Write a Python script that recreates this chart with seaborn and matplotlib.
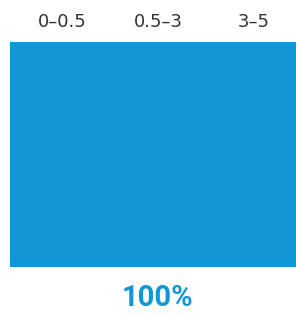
import matplotlib
matplotlib.use("Agg")
from matplotlib import pyplot as plt
from matplotlib.colors import ListedColormap
import matplotlib.transforms as mtransforms
import seaborn as sns
import pandas as pd

# age brackets (years) and coverage share per bracket
brackets = ["0–0.5", "0.5–3", "3–5"]
coverage = [100, 100, 100]
total_label = "100%"

sns.set_style("white")
plt.rcParams["font.family"] = ["Roboto", "DejaVu Sans"]

blue = "#1396d5"
df = pd.DataFrame([coverage], columns=brackets)

fig = plt.figure(figsize=(2.96, 3.14), dpi=100)
ax = fig.add_axes([10 / 296, 1 - 267 / 314, 286 / 296, 225 / 314])
sns.heatmap(df, ax=ax, cmap=ListedColormap([blue]), vmin=0, vmax=100,
            cbar=False, xticklabels=True, yticklabels=False)
ax.xaxis.tick_top()
ax.tick_params(axis="x", length=0, pad=8)
# labels sit a little right of the cell centres in the original
shift = mtransforms.ScaledTranslation(5 / 100, 0, fig.dpi_scale_trans)
for lbl in ax.get_xticklabels():
    lbl.set_rotation(0)
    lbl.set_fontfamily("DejaVu Sans")
    lbl.set_fontsize(13)
    lbl.set_color("#333333")
    lbl.set_transform(lbl.get_transform() + shift)
for s in ax.spines.values():
    s.set_visible(False)

fig.text(157.5 / 296, 1 - 298.5 / 314, total_label, ha="center", va="center",
         fontsize=21, fontweight="bold", color=blue)

fig.savefig("out.png", dpi=100)
